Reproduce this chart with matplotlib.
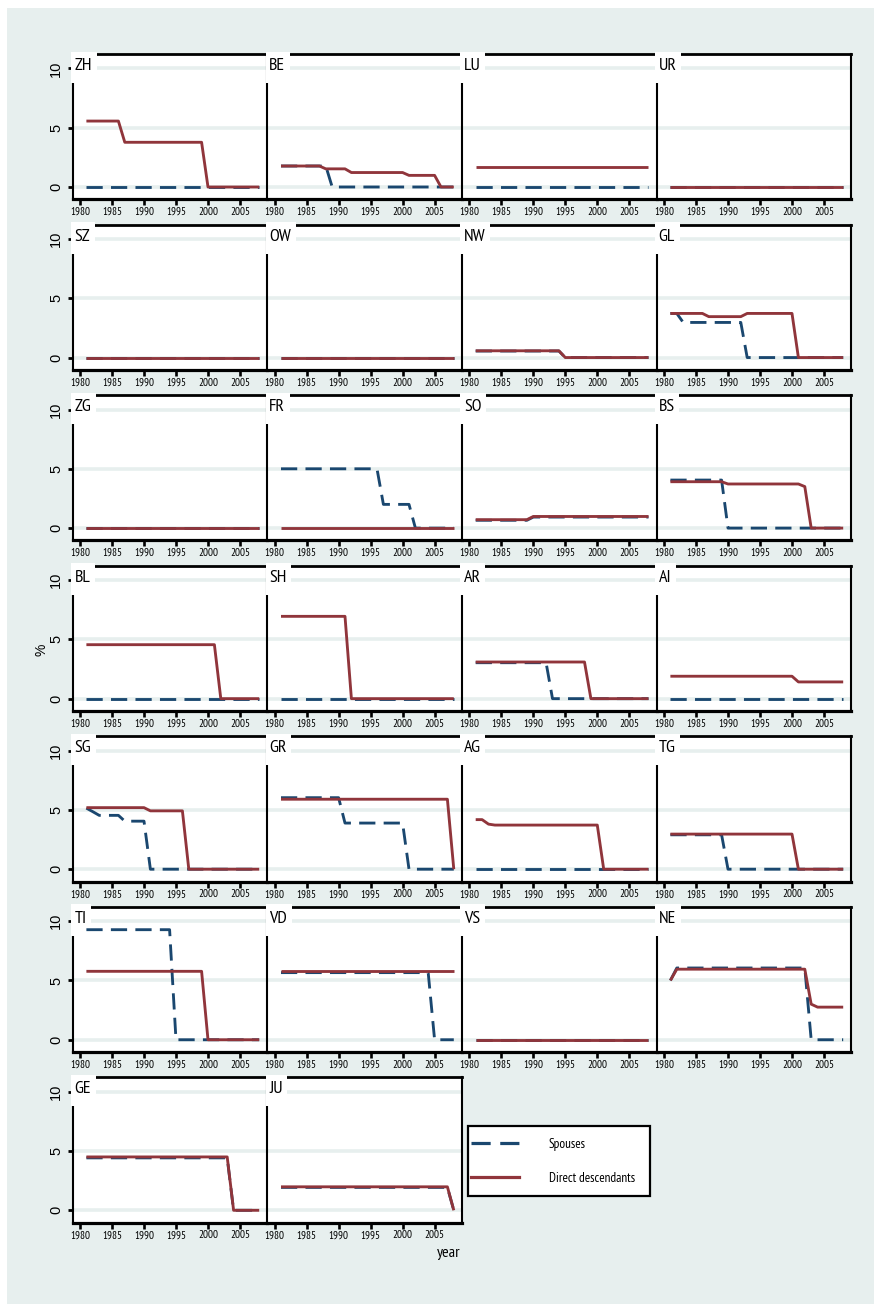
import matplotlib
matplotlib.use("Agg")
import matplotlib.pyplot as plt
from matplotlib.patches import Rectangle
from matplotlib.lines import Line2D

# ---------------- data ----------------
years = [1981, 1982, 1983, 1984, 1985, 1986, 1987,
         1988, 1989, 1990, 1991, 1992, 1993, 1994,
         1995, 1996, 1997, 1998, 1999, 2000, 2001,
         2002, 2003, 2004, 2005, 2006, 2007, 2008]

cantons = ["ZH", "BE", "LU", "UR", "SZ", "OW", "NW", "GL", "ZG", "FR", "SO", "BS", "BL",
           "SH", "AR", "AI", "SG", "GR", "AG", "TG", "TI", "VD", "VS", "NE", "GE", "JU"]

xtick_labels = ["1980", "1985", "1990", "1995", "2000", "2005"]
ytick_labels = ["0", "5", "10"]
series_labels = ["Spouses", "Direct descendants"]

desc_ZH = [5.56, 5.56, 5.56, 5.56, 5.56, 5.56, 3.77,
           3.77, 3.77, 3.77, 3.77, 3.77, 3.77, 3.77,
           3.77, 3.77, 3.77, 3.77, 3.77, 0, 0,
           0, 0, 0, 0, 0, 0, 0]
sp_ZH = [0, 0, 0, 0, 0, 0, 0, 0, 0, 0, 0, 0, 0, 0,
         0, 0, 0, 0, 0, 0, 0, 0, 0, 0, 0, 0, 0, 0]

desc_BE = [1.77, 1.77, 1.77, 1.77, 1.77, 1.77, 1.77,
           1.53, 1.53, 1.53, 1.53, 1.22, 1.22, 1.22,
           1.22, 1.22, 1.22, 1.22, 1.22, 1.22, 0.98,
           0.98, 0.98, 0.98, 0.98, 0, 0, 0]
sp_BE = [1.77, 1.77, 1.77, 1.77, 1.77, 1.77, 1.77,
         1.77, 0, 0, 0, 0, 0, 0,
         0, 0, 0, 0, 0, 0, 0,
         0, 0, 0, 0, 0, 0, 0]

desc_LU = [1.72, 1.72, 1.72, 1.72, 1.72, 1.72, 1.72,
           1.72, 1.72, 1.72, 1.72, 1.72, 1.72, 1.72,
           1.72, 1.72, 1.72, 1.72, 1.72, 1.72, 1.72,
           1.72, 1.72, 1.72, 1.72, 1.72, 1.72, 1.72]
sp_LU = [0, 0, 0, 0, 0, 0, 0, 0, 0, 0, 0, 0, 0, 0,
         0, 0, 0, 0, 0, 0, 0, 0, 0, 0, 0, 0, 0, 0]

desc_UR = [0, 0, 0, 0, 0, 0, 0, 0, 0, 0, 0, 0, 0, 0,
           0, 0, 0, 0, 0, 0, 0, 0, 0, 0, 0, 0, 0, 0]
sp_UR = [0, 0, 0, 0, 0, 0, 0, 0, 0, 0, 0, 0, 0, 0,
         0, 0, 0, 0, 0, 0, 0, 0, 0, 0, 0, 0, 0, 0]

desc_SZ = [0, 0, 0, 0, 0, 0, 0, 0, 0, 0, 0, 0, 0, 0,
           0, 0, 0, 0, 0, 0, 0, 0, 0, 0, 0, 0, 0, 0]
sp_SZ = [0, 0, 0, 0, 0, 0, 0, 0, 0, 0, 0, 0, 0, 0,
         0, 0, 0, 0, 0, 0, 0, 0, 0, 0, 0, 0, 0, 0]

desc_OW = [0, 0, 0, 0, 0, 0, 0, 0, 0, 0, 0, 0, 0, 0,
           0, 0, 0, 0, 0, 0, 0, 0, 0, 0, 0, 0, 0, 0]
sp_OW = [0, 0, 0, 0, 0, 0, 0, 0, 0, 0, 0, 0, 0, 0,
         0, 0, 0, 0, 0, 0, 0, 0, 0, 0, 0, 0, 0, 0]

desc_NW = [0.57, 0.57, 0.57, 0.57, 0.57, 0.57, 0.57,
           0.57, 0.57, 0.57, 0.57, 0.57, 0.57, 0.57,
           0, 0, 0, 0, 0, 0, 0,
           0, 0, 0, 0, 0, 0, 0]
sp_NW = [0.55, 0.55, 0.55, 0.55, 0.55, 0.55, 0.55,
         0.55, 0.55, 0.55, 0.55, 0.55, 0.55, 0.55,
         0, 0, 0, 0, 0, 0, 0,
         0, 0, 0, 0, 0, 0, 0]

desc_GL = [3.72, 3.72, 3.72, 3.72, 3.72, 3.72, 3.45,
           3.45, 3.45, 3.45, 3.45, 3.45, 3.72, 3.72,
           3.72, 3.72, 3.72, 3.72, 3.72, 3.72, 0,
           0, 0, 0, 0, 0, 0, 0]
sp_GL = [3.72, 3.72, 2.96, 2.96, 2.96, 2.96, 2.96,
         2.96, 2.96, 2.96, 2.96, 2.96, 0, 0,
         0, 0, 0, 0, 0, 0, 0,
         0, 0, 0, 0, 0, 0, 0]

desc_ZG = [0, 0, 0, 0, 0, 0, 0, 0, 0, 0, 0, 0, 0, 0,
           0, 0, 0, 0, 0, 0, 0, 0, 0, 0, 0, 0, 0, 0]
sp_ZG = [0, 0, 0, 0, 0, 0, 0, 0, 0, 0, 0, 0, 0, 0,
         0, 0, 0, 0, 0, 0, 0, 0, 0, 0, 0, 0, 0, 0]

desc_FR = [0, 0, 0, 0, 0, 0, 0, 0, 0, 0, 0, 0, 0, 0,
           0, 0, 0, 0, 0, 0, 0, 0, 0, 0, 0, 0, 0, 0]
sp_FR = [5.0, 5.0, 5.0, 5.0, 5.0, 5.0, 5.0,
         5.0, 5.0, 5.0, 5.0, 5.0, 5.0, 5.0,
         5.0, 5.0, 2.0, 2.0, 2.0, 2.0, 2.0,
         0, 0, 0, 0, 0, 0, 0]

desc_SO = [0.71, 0.71, 0.71, 0.71, 0.71, 0.71, 0.71,
           0.71, 0.71, 0.98, 0.98, 0.98, 0.98, 0.98,
           0.98, 0.98, 0.98, 0.98, 0.98, 0.98, 0.98,
           0.98, 0.98, 0.98, 0.98, 0.98, 0.98, 0.98]
sp_SO = [0.66, 0.66, 0.66, 0.66, 0.66, 0.66, 0.66,
         0.66, 0.66, 0.93, 0.93, 0.93, 0.93, 0.93,
         0.93, 0.93, 0.93, 0.93, 0.93, 0.93, 0.93,
         0.93, 0.93, 0.93, 0.93, 0.93, 0.93, 0.93]

desc_BS = [3.91, 3.91, 3.91, 3.91, 3.91, 3.91, 3.91,
           3.91, 3.91, 3.72, 3.72, 3.72, 3.72, 3.72,
           3.72, 3.72, 3.72, 3.72, 3.72, 3.72, 3.72,
           3.5, 0, 0, 0, 0, 0, 0]
sp_BS = [4.05, 4.05, 4.05, 4.05, 4.05, 4.05, 4.05,
         4.05, 4.05, 0, 0, 0, 0, 0,
         0, 0, 0, 0, 0, 0, 0,
         0, 0, 0, 0, 0, 0, 0]

desc_BL = [4.55, 4.55, 4.55, 4.55, 4.55, 4.55, 4.55,
           4.55, 4.55, 4.55, 4.55, 4.55, 4.55, 4.55,
           4.55, 4.55, 4.55, 4.55, 4.55, 4.55, 4.55,
           0, 0, 0, 0, 0, 0, 0]
sp_BL = [0, 0, 0, 0, 0, 0, 0, 0, 0, 0, 0, 0, 0, 0,
         0, 0, 0, 0, 0, 0, 0, 0, 0, 0, 0, 0, 0, 0]

desc_SH = [6.94, 6.94, 6.94, 6.94, 6.94, 6.94, 6.94,
           6.94, 6.94, 6.94, 6.94, 0, 0, 0,
           0, 0, 0, 0, 0, 0, 0,
           0, 0, 0, 0, 0, 0, 0]
sp_SH = [0, 0, 0, 0, 0, 0, 0, 0, 0, 0, 0, 0, 0, 0,
         0, 0, 0, 0, 0, 0, 0, 0, 0, 0, 0, 0, 0, 0]

desc_AR = [3.09, 3.09, 3.09, 3.09, 3.09, 3.09, 3.09,
           3.09, 3.09, 3.09, 3.09, 3.09, 3.09, 3.09,
           3.09, 3.09, 3.09, 3.09, 0, 0, 0,
           0, 0, 0, 0, 0, 0, 0]
sp_AR = [3.03, 3.03, 3.03, 3.03, 3.03, 3.03, 3.03,
         3.03, 3.03, 3.03, 3.03, 3.03, 0, 0,
         0, 0, 0, 0, 0, 0, 0,
         0, 0, 0, 0, 0, 0, 0]

desc_AI = [1.89, 1.89, 1.89, 1.89, 1.89, 1.89, 1.89,
           1.89, 1.89, 1.89, 1.89, 1.89, 1.89, 1.89,
           1.89, 1.89, 1.89, 1.89, 1.89, 1.89, 1.41,
           1.41, 1.41, 1.41, 1.41, 1.41, 1.41, 1.41]
sp_AI = [0, 0, 0, 0, 0, 0, 0, 0, 0, 0, 0, 0, 0, 0,
         0, 0, 0, 0, 0, 0, 0, 0, 0, 0, 0, 0, 0, 0]

desc_SG = [5.19, 5.19, 5.19, 5.19, 5.19, 5.19, 5.19,
           5.19, 5.19, 5.19, 4.92, 4.92, 4.92, 4.92,
           4.92, 4.92, 0, 0, 0, 0, 0,
           0, 0, 0, 0, 0, 0, 0]
sp_SG = [5.15, 4.85, 4.54, 4.54, 4.54, 4.54, 4.05,
         4.05, 4.05, 4.05, 0, 0, 0, 0,
         0, 0, 0, 0, 0, 0, 0,
         0, 0, 0, 0, 0, 0, 0]

desc_GR = [5.9, 5.9, 5.9, 5.9, 5.9, 5.9, 5.9,
           5.9, 5.9, 5.9, 5.9, 5.9, 5.9, 5.9,
           5.9, 5.9, 5.9, 5.9, 5.9, 5.9, 5.9,
           5.9, 5.9, 5.9, 5.9, 5.9, 5.9, 0]
sp_GR = [6.03, 6.03, 6.03, 6.03, 6.03, 6.03, 6.03,
         6.03, 6.03, 6.03, 3.89, 3.89, 3.89, 3.89,
         3.89, 3.89, 3.89, 3.89, 3.89, 3.89, 0,
         0, 0, 0, 0, 0, 0, 0]

desc_AG = [4.18, 4.18, 3.8, 3.72, 3.72, 3.72, 3.72,
           3.72, 3.72, 3.72, 3.72, 3.72, 3.72, 3.72,
           3.72, 3.72, 3.72, 3.72, 3.72, 3.72, 0,
           0, 0, 0, 0, 0, 0, 0]
sp_AG = [0, 0, 0, 0, 0, 0, 0, 0, 0, 0, 0, 0, 0, 0,
         0, 0, 0, 0, 0, 0, 0, 0, 0, 0, 0, 0, 0, 0]

desc_TG = [2.96, 2.96, 2.96, 2.96, 2.96, 2.96, 2.96,
           2.96, 2.96, 2.96, 2.96, 2.96, 2.96, 2.96,
           2.96, 2.96, 2.96, 2.96, 2.96, 2.96, 0,
           0, 0, 0, 0, 0, 0, 0]
sp_TG = [2.9, 2.9, 2.9, 2.9, 2.9, 2.9, 2.9,
         2.9, 2.9, 0, 0, 0, 0, 0,
         0, 0, 0, 0, 0, 0, 0,
         0, 0, 0, 0, 0, 0, 0]

desc_TI = [5.77, 5.77, 5.77, 5.77, 5.77, 5.77, 5.77,
           5.77, 5.77, 5.77, 5.77, 5.77, 5.77, 5.77,
           5.77, 5.77, 5.77, 5.77, 5.77, 0, 0,
           0, 0, 0, 0, 0, 0, 0]
sp_TI = [9.28, 9.28, 9.28, 9.28, 9.28, 9.28, 9.28,
         9.28, 9.28, 9.28, 9.28, 9.28, 9.28, 9.28,
         0, 0, 0, 0, 0, 0, 0,
         0, 0, 0, 0, 0, 0, 0]

desc_VD = [5.77, 5.77, 5.77, 5.77, 5.77, 5.77, 5.77,
           5.77, 5.77, 5.77, 5.77, 5.77, 5.77, 5.77,
           5.77, 5.77, 5.77, 5.77, 5.77, 5.77, 5.77,
           5.77, 5.77, 5.77, 5.77, 5.77, 5.77, 5.77]
sp_VD = [5.66, 5.66, 5.66, 5.66, 5.66, 5.66, 5.66,
         5.66, 5.66, 5.66, 5.66, 5.66, 5.66, 5.66,
         5.66, 5.66, 5.66, 5.66, 5.66, 5.66, 5.66,
         5.66, 5.66, 5.66, 0, 0, 0, 0]

desc_VS = [0, 0, 0, 0, 0, 0, 0, 0, 0, 0, 0, 0, 0, 0,
           0, 0, 0, 0, 0, 0, 0, 0, 0, 0, 0, 0, 0, 0]
sp_VS = [0, 0, 0, 0, 0, 0, 0, 0, 0, 0, 0, 0, 0, 0,
         0, 0, 0, 0, 0, 0, 0, 0, 0, 0, 0, 0, 0, 0]

desc_NE = [5.0, 5.95, 5.95, 5.95, 5.95, 5.95, 5.95,
           5.95, 5.95, 5.95, 5.95, 5.95, 5.95, 5.95,
           5.95, 5.95, 5.95, 5.95, 5.95, 5.95, 5.95,
           5.95, 3.0, 2.75, 2.75, 2.75, 2.75, 2.75]
sp_NE = [5.0, 6.05, 6.05, 6.05, 6.05, 6.05, 6.05,
         6.05, 6.05, 6.05, 6.05, 6.05, 6.05, 6.05,
         6.05, 6.05, 6.05, 6.05, 6.05, 6.05, 6.05,
         6.05, 0, 0, 0, 0, 0, 0]

desc_GE = [4.5, 4.5, 4.5, 4.5, 4.5, 4.5, 4.5,
           4.5, 4.5, 4.5, 4.5, 4.5, 4.5, 4.5,
           4.5, 4.5, 4.5, 4.5, 4.5, 4.5, 4.5,
           4.5, 4.5, 0, 0, 0, 0, 0]
sp_GE = [4.42, 4.42, 4.42, 4.42, 4.42, 4.42, 4.42,
         4.42, 4.42, 4.42, 4.42, 4.42, 4.42, 4.42,
         4.42, 4.42, 4.42, 4.42, 4.42, 4.42, 4.42,
         4.42, 4.42, 0, 0, 0, 0, 0]

desc_JU = [1.98, 1.98, 1.98, 1.98, 1.98, 1.98, 1.98,
           1.98, 1.98, 1.98, 1.98, 1.98, 1.98, 1.98,
           1.98, 1.98, 1.98, 1.98, 1.98, 1.98, 1.98,
           1.98, 1.98, 1.98, 1.98, 1.98, 1.98, 0]
sp_JU = [1.93, 1.93, 1.93, 1.93, 1.93, 1.93, 1.93,
         1.93, 1.93, 1.93, 1.93, 1.93, 1.93, 1.93,
         1.93, 1.93, 1.93, 1.93, 1.93, 1.93, 1.93,
         1.93, 1.93, 1.93, 1.93, 1.93, 1.93, 0]

spouses = [sp_ZH, sp_BE, sp_LU, sp_UR, sp_SZ, sp_OW, sp_NW, sp_GL, sp_ZG, sp_FR, sp_SO,
           sp_BS, sp_BL, sp_SH, sp_AR, sp_AI, sp_SG, sp_GR, sp_AG, sp_TG, sp_TI, sp_VD,
           sp_VS, sp_NE, sp_GE, sp_JU]
descendants = [desc_ZH, desc_BE, desc_LU, desc_UR, desc_SZ, desc_OW, desc_NW, desc_GL,
               desc_ZG, desc_FR, desc_SO, desc_BS, desc_BL, desc_SH, desc_AR, desc_AI,
               desc_SG, desc_GR, desc_AG, desc_TG, desc_TI, desc_VD, desc_VS, desc_NE,
               desc_GE, desc_JU]

# ---------------- style / layout ----------------
NAVY = "#1a476f"
MAROON = "#90353b"
BG = "#e7efee"
NARROW = ["PT Sans Narrow", "Archivo Narrow", "Roboto Condensed", "DejaVu Sans"]
WIDE = ["Liberation Sans", "DejaVu Sans"]
plt.rcParams["font.family"] = NARROW

W, H = 874, 1304
fig = plt.figure(figsize=(W / 100, H / 100), dpi=100, facecolor="white")
fig.patches.append(Rectangle((7 / W, 0), (W - 7) / W, (H - 8) / H,
                             transform=fig.transFigure, facecolor=BG,
                             edgecolor="none", zorder=-10))

col_left = [72.7, 267.3, 462.0, 656.7]
pw = 194.7
row_zero0 = 187.0
row_step = 170.55
ppu = 11.86
ymin, ymax = -1.04, 11.2
ph = (ymax - ymin) * ppu
xmin = 1978.86
xmax = xmin + pw / 6.4

DASH = (0, (5.7, 2.9))
LW = 2.05
labels = []
n = len(cantons)
for i, c in enumerate(cantons):
    r, col = divmod(i, 4)
    y0 = row_zero0 + row_step * r
    top = y0 - ymax * ppu
    ax = fig.add_axes([col_left[col] / W, 1 - (top + ph) / H, pw / W, ph / H])
    ax.set_facecolor("white")
    ax.set_xlim(xmin, xmax)
    ax.set_ylim(ymin, ymax)

    ax.plot(years, spouses[i], color=NAVY, lw=LW, ls=DASH, zorder=4,
            solid_capstyle="butt", dash_capstyle="butt")
    ax.plot(years, descendants[i], color=MAROON, lw=LW, zorder=5,
            solid_capstyle="butt")

    ax.set_yticks([0, 5, 10])
    ax.yaxis.grid(True, color=BG, lw=2.6)
    ax.set_axisbelow(True)
    ax.set_xticks([1980, 1985, 1990, 1995, 2000, 2005])
    ax.set_xticklabels(xtick_labels)
    ax.tick_params(axis="x", direction="out", length=4.5, width=1.9,
                   labelsize=8.0, pad=1.0, color="black")
    if col == 0:
        ax.set_yticklabels(ytick_labels, rotation=90, va="center",
                           family=WIDE, fontsize=10.5)
        ax.tick_params(axis="y", direction="out", length=3.5, width=2.0, pad=3.5)
    else:
        ax.tick_params(axis="y", length=0, labelleft=False)

    ax.spines["left"].set_linewidth(1.5)
    ax.spines["top"].set_linewidth(2.0)
    ax.spines["bottom"].set_linewidth(2.3)
    last_in_row = (col == 3) or (i == n - 1)
    ax.spines["right"].set_visible(last_in_row)
    ax.spines["right"].set_linewidth(1.5)

    t = ax.text(2.0 / pw, 1 - 12.0 / ph, c, transform=ax.transAxes, ha="left",
                va="center", fontsize=13, zorder=7)
    labels.append((ax, t))

fig.canvas.draw()
renderer = fig.canvas.get_renderer()
for ax, t in labels:
    bb = t.get_window_extent(renderer)
    abb = ax.get_window_extent(renderer)
    xr = (bb.x1 + 4.5 - abb.x0) / abb.width
    yb = 1 - 29.0 / ph
    yt = 1 + 2.5 / ph
    x0 = -1.5 / pw
    ax.add_patch(Rectangle((x0, yb), xr - x0, yt - yb, transform=ax.transAxes,
                           facecolor="white", edgecolor="none", zorder=3,
                           clip_on=False))

# axis titles
fig.text(42 / W, 1 - 650 / H, "%", rotation=90, ha="center", va="center",
         fontsize=10, family=WIDE)
fig.text(461 / W, 1 - 1253 / H, "year", ha="right", va="center", fontsize=11.5)

# legend
fig.add_artist(Rectangle((467.6 / W, 1 - 1195.7 / H), 182.4 / W, 70 / H,
                         transform=fig.transFigure, facecolor="white",
                         edgecolor="black", lw=1.6, zorder=4))
handles = [Line2D([], [], color=NAVY, lw=2.3, ls=(0, (6.0, 3.0))),
           Line2D([], [], color=MAROON, lw=2.3)]
leg = fig.legend(handles, series_labels, loc="upper left",
                 bbox_to_anchor=(471 / W, 1 - 1138 / H), frameon=False,
                 borderpad=0, borderaxespad=0, handlelength=3.6,
                 handletextpad=2.3, labelspacing=1.6, fontsize=9.5)
leg.set_zorder(6)

fig.savefig("out.png", dpi=100, facecolor="white")
